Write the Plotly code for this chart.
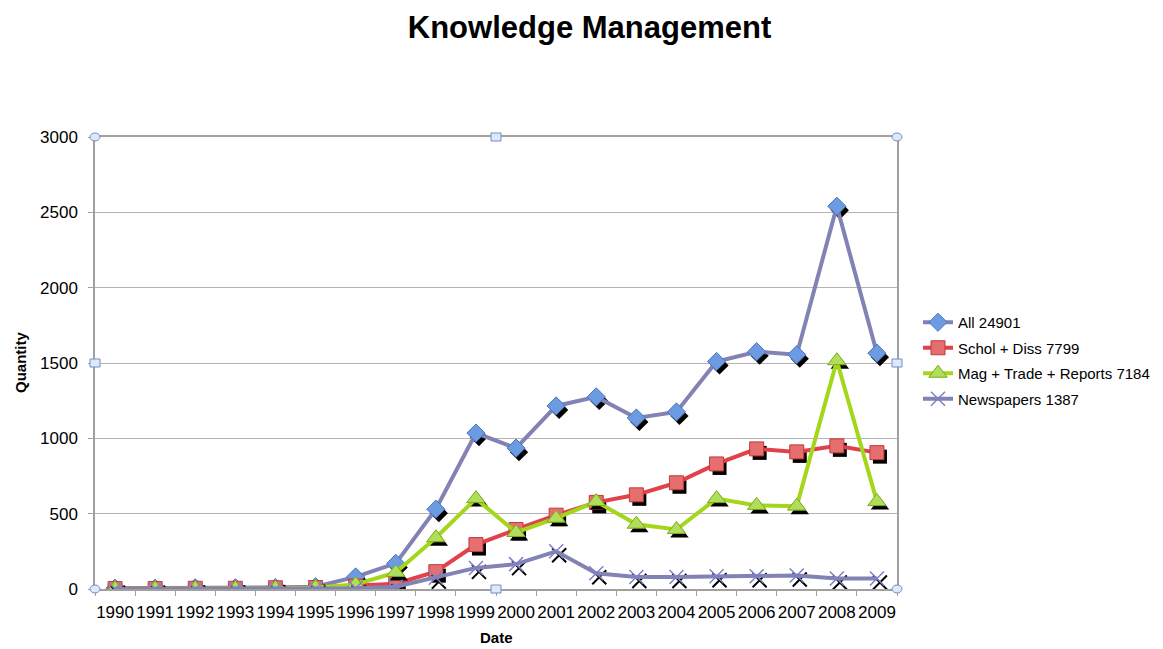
import plotly.graph_objects as go

years = list(range(1990, 2010))
all_vals = [5, 5, 8, 8, 10, 15, 80, 170, 530, 1035, 935, 1215, 1275, 1135, 1175, 1510, 1575, 1555, 2540, 1565]
schol_vals = [3, 3, 5, 5, 8, 10, 20, 35, 115, 295, 395, 490, 575, 625, 705, 830, 930, 910, 950, 905]
mag_vals = [2, 2, 3, 3, 5, 10, 30, 110, 340, 600, 375, 470, 580, 430, 395, 600, 555, 550, 1515, 580]
news_vals = [0, 0, 0, 0, 0, 2, 5, 15, 75, 140, 165, 250, 105, 80, 80, 85, 85, 90, 70, 70]
series_names = ["All 24901", "Schol + Diss 7799", "Mag + Trade + Reports 7184", "Newspapers 1387"]
y_ticks = [0, 500, 1000, 1500, 2000, 2500, 3000]

# the page body adds an 8px offset; margins compensate so the plot lands where the reference has it
OFF = 8
W, H = 1163, 649
plot_w, plot_h = 802, 452
ML = 95 - OFF
MT = 137 - OFF
MR = W - ML - plot_w
MB = H - MT - plot_h
px_per_year = plot_w / 20.0
px_per_unit = plot_h / 3000.0
DX = 3 / px_per_year
DY = 4 / px_per_unit

styles = [
    dict(line="#8282b4", symbol="diamond", size=14, fill="#6d9be2", border="#4c74bd"),
    dict(line="#e0414b", symbol="square", size=14, fill="#e56e6e", border="#c23a3a"),
    dict(line="#a4d61c", symbol="triangle-up", size=16, fill="#aede5a", border="#7da81a"),
    dict(line="#8282b4", symbol="x-thin", size=14, fill="#8080c8", border="#8080c8"),
]

data = [all_vals, schol_vals, mag_vals, news_vals]

fig = go.Figure()
for i, (name, vals, st) in enumerate(zip(series_names, data, styles)):
    fig.add_trace(go.Scatter(
        x=[y + DX for y in years], y=[v - DY for v in vals], mode="markers",
        marker=dict(symbol=st["symbol"], size=st["size"], color="black",
                    line=dict(color="black", width=2 if st["symbol"] == "x-thin" else 0)),
        showlegend=False, hoverinfo="skip", legendgroup="g%d" % i))
    fig.add_trace(go.Scatter(
        x=years, y=vals, mode="lines+markers", name=name, legendgroup="g%d" % i,
        line=dict(color=st["line"], width=4),
        marker=dict(symbol=st["symbol"], size=st["size"], color=st["fill"],
                    line=dict(color=st["border"], width=1.5 if st["symbol"] == "x-thin" else 1))))

shapes = []
def handle(xp, yp, kind):
    shapes.append(dict(type="circle" if kind == "c" else "rect", xref="paper", yref="paper",
                       xsizemode="pixel", ysizemode="pixel", xanchor=xp, yanchor=yp,
                       x0=-5, x1=5, y0=-4, y1=4,
                       line=dict(color="#6f8fc8", width=1), fillcolor="#dfe8f8", layer="above"))
for xp, yp in [(0, 0), (0, 1), (1, 0), (1, 1)]:
    handle(xp, yp, "c")
for xp, yp in [(0.5, 0), (0.5, 1), (0, 0.5), (1, 0.5)]:
    handle(xp, yp, "r")

fig.update_layout(
    width=W, height=H,
    margin=dict(l=ML, r=MR, t=MT, b=MB),
    paper_bgcolor="white", plot_bgcolor="white",
    font=dict(family="Liberation Sans, Arial, sans-serif", color="black"),
    title=dict(text="<b>Knowledge Management</b>", x=(589.5 - OFF) / W, xanchor="center",
               y=1 - (27 - OFF) / H, yanchor="middle", font=dict(size=31, color="black")),
    xaxis=dict(range=[1989.5, 2009.5], tickmode="array", tickvals=years,
               ticktext=[str(y) for y in years], ticks="", tickfont=dict(size=17),
               ticklabelstandoff=7,
               showgrid=False, zeroline=False, showline=True, linecolor="#a0a0a0",
               linewidth=1.5, mirror=True,
               minor=dict(tickmode="linear", tick0=1989.5, dtick=1, ticks="outside",
                          ticklen=5, tickcolor="#a0a0a0", showgrid=False)),
    yaxis=dict(range=[0, 3000], tickvals=y_ticks, ticks="outside", ticklen=5,
               tickcolor="#a0a0a0", tickfont=dict(size=17), ticklabelstandoff=7,
               showgrid=True,
               gridcolor="#b4b4b4", gridwidth=1.2, zeroline=False, showline=True,
               linecolor="#a0a0a0", linewidth=1.5, mirror=True),
    legend=dict(x=(918 - 95) / plot_w, y=(589 - 306) / plot_h, xanchor="left", yanchor="top",
                font=dict(size=15), tracegroupgap=3, itemwidth=30,
                bgcolor="rgba(0,0,0,0)"),
    shapes=shapes,
    annotations=[
        dict(text="<b>Quantity</b>", xref="paper", yref="paper", x=(20 - 95) / plot_w, y=(589 - 363) / plot_h,
             textangle=-90, showarrow=False, font=dict(size=15), xanchor="center", yanchor="middle"),
        dict(text="<b>Date</b>", xref="paper", yref="paper", x=(496 - 95) / plot_w, y=-(637 - 589) / plot_h,
             showarrow=False, font=dict(size=15), xanchor="center", yanchor="middle"),
    ],
)

fig.write_html("out.html")
